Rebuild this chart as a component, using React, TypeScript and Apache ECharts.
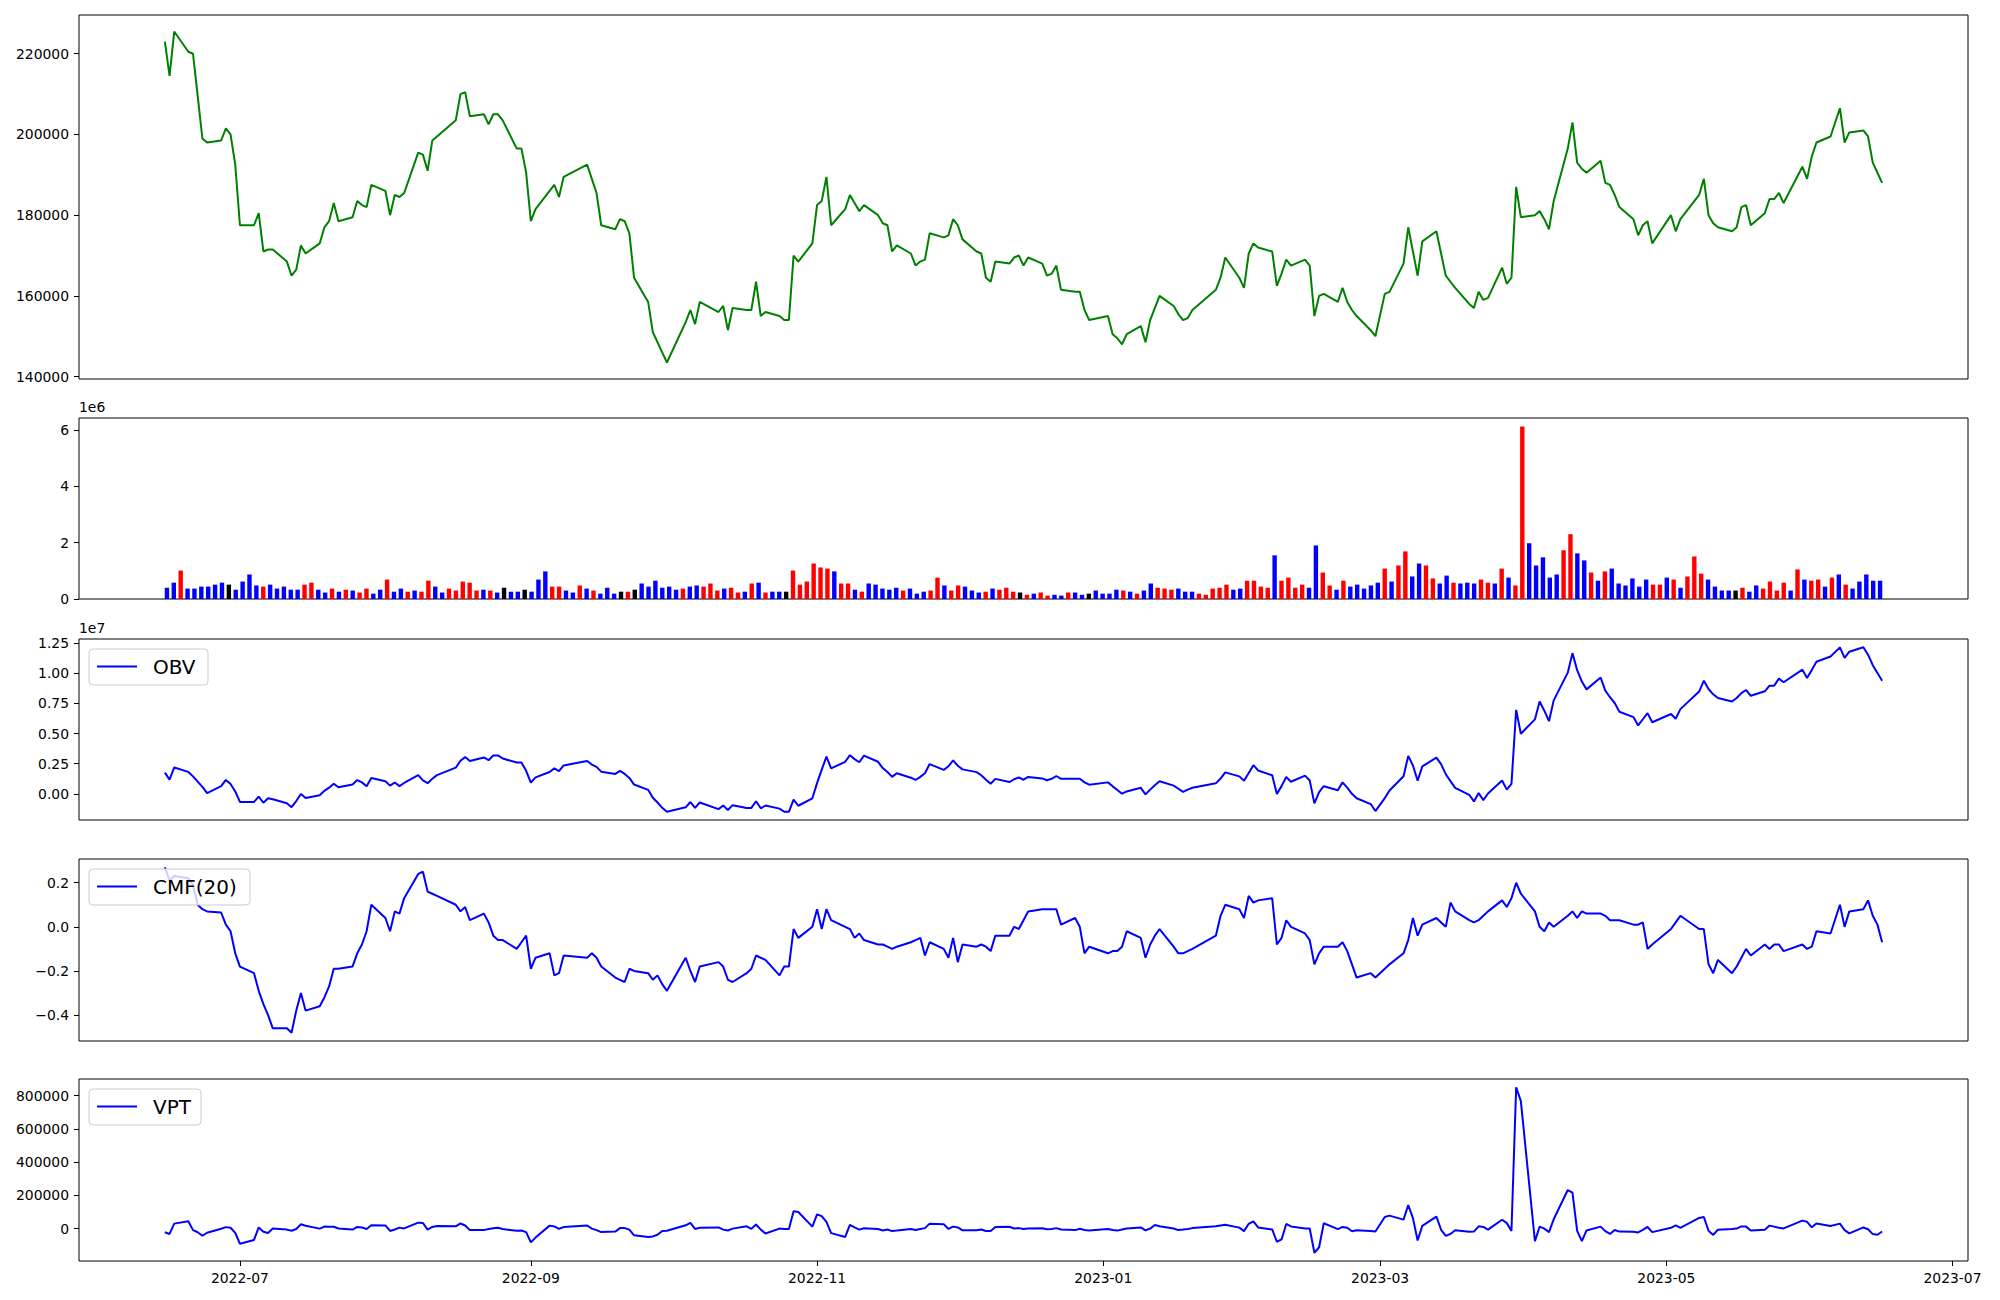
import React, { useEffect, useRef } from "react";
import * as echarts from "echarts";

// ---------------- DATA ----------------
const tradingDaysByMonth: [string, number[]][] = [
  ["2022-06", [15, 16, 17, 20, 21, 22, 23, 24, 27, 28, 29, 30]],
  ["2022-07", [1, 4, 5, 6, 7, 8, 11, 12, 13, 14, 15, 18, 19, 20, 21, 22, 25, 26, 27, 28, 29]],
  ["2022-08", [1, 2, 3, 4, 5, 8, 9, 10, 11, 12, 16, 17, 18, 19, 22, 23, 24, 25, 26, 29, 30, 31]],
  ["2022-09", [1, 2, 5, 6, 7, 8, 13, 14, 15, 16, 19, 20, 21, 22, 23, 26, 27, 28, 29, 30]],
  ["2022-10", [4, 5, 6, 7, 11, 12, 13, 14, 17, 18, 19, 20, 21, 24, 25, 26, 27, 28, 31]],
  ["2022-11", [1, 2, 3, 4, 7, 8, 9, 10, 11, 14, 15, 16, 17, 18, 21, 22, 23, 24, 25, 28, 29, 30]],
  ["2022-12", [1, 2, 5, 6, 7, 8, 9, 12, 13, 14, 15, 16, 19, 20, 21, 22, 23, 26, 27, 28, 29]],
  ["2023-01", [2, 3, 4, 5, 6, 9, 10, 11, 12, 13, 16, 17, 18, 19, 20, 25, 26, 27, 30, 31]],
  ["2023-02", [1, 2, 3, 6, 7, 8, 9, 10, 13, 14, 15, 16, 17, 20, 21, 22, 23, 24, 27, 28]],
  ["2023-03", [2, 3, 6, 7, 8, 9, 10, 13, 14, 15, 16, 17, 20, 21, 22, 23, 24, 27, 28, 29, 30, 31]],
  ["2023-04", [3, 4, 5, 6, 7, 10, 11, 12, 13, 14, 17, 18, 19, 20, 21, 24, 25, 26, 27, 28]],
  ["2023-05", [2, 3, 4, 8, 9, 10, 11, 12, 15, 16, 17, 18, 19, 22, 23, 24, 25, 26, 30, 31]],
  ["2023-06", [1, 2, 5, 7, 8, 9, 12, 13, 14, 15, 16]],
];

const dateTickLabels = ["2022-07", "2022-09", "2022-11", "2023-01", "2023-03", "2023-05", "2023-07"];
const priceTicks = [140000, 160000, 180000, 200000, 220000];
const volumeTicks = [0, 2e6, 4e6, 6e6];
const obvTicks = [0, 2.5e6, 5e6, 7.5e6, 10e6, 12.5e6];
const cmfTicks = [-0.4, -0.2, 0, 0.2];
const vptTicks = [0, 200000, 400000, 600000, 800000];

const closePrice = [
  223000, 214500, 225500, 220500, 220000, 209500, 199000, 198000, 198500, 201500, 200000, 192500,
  177500, 177500, 180500, 171000, 171500, 171500, 168500, 165000, 166500, 172500, 170500, 173000, 177000, 178500, 183000, 178500, 179500, 183500, 182500, 182000, 187500,
  186000, 180000, 185000, 184500, 185500, 195500, 195000, 191000, 198500, 199500, 203500, 210000, 210500, 204500, 205000, 202500, 205000, 205000, 203500, 196500, 196500, 190500,
  178500, 181500, 186000, 187500, 184500, 189500, 192500, 189000, 185500, 177500, 176500, 179000, 178500, 175500, 164500, 158500, 151000, 148500, 146000, 143500,
  153500, 156500, 153000, 158500, 156000, 157500, 151500, 157000, 156500, 156500, 163500, 155000, 156000, 155000, 154000, 154000, 170000, 168500, 173000,
  182500, 183500, 189500, 177500, 181500, 185000, 183000, 181000, 182500, 180000, 178000, 177500, 171000, 172500, 170500, 167500, 168500, 169000, 175500, 174500, 175000, 179000,
  177500, 174000, 171000, 170500, 164500, 163500, 168500, 168000, 169500, 170000, 167500, 169500, 168000, 165000, 165500, 167500, 161500, 161000, 161000, 156500, 154000,
  155000, 150500, 149500, 148000, 150500, 152500, 148500, 154000, 157000, 160000, 157500, 155500, 154000, 154500, 156500, 161500, 164500, 169500, 164500, 162000,
  170500, 173000, 172000, 171000, 162500, 165500, 169000, 167500, 169000, 167500, 155000, 160000, 160500, 158500, 162000, 158500, 156500, 155000, 151500, 150000,
  160500, 161000, 168000, 177000, 171000, 165000, 173500, 176000, 170500, 165000, 163500, 162000, 158000, 157000, 161000, 159000, 159500, 167000, 163000, 164500, 187000, 179500,
  180000, 181000, 179000, 176500, 183500, 196500, 203000, 193000, 191500, 190500, 193500, 188000, 187500, 185000, 182000, 179000, 175000, 177500, 178500, 173000,
  180000, 176000, 179000, 185000, 189000, 180000, 178000, 177000, 176000, 177000, 182000, 182500, 177500, 180500, 184000, 184000, 185500, 183000, 192000, 189000,
  194500, 198000, 199500, 206500, 198000, 200500, 201000, 199500, 193000, 190500, 188000,
];

// volume in millions of shares
const volumeMillions = [
  0.40, 0.58, 1.01, 0.37, 0.37, 0.44, 0.44, 0.51, 0.58, 0.51,
  0.33, 0.62, 0.87, 0.48, 0.44, 0.51, 0.37, 0.44, 0.33, 0.33,
  0.51, 0.58, 0.33, 0.23, 0.37, 0.26, 0.33, 0.30, 0.23, 0.37,
  0.19, 0.33, 0.69, 0.26, 0.37, 0.26, 0.30, 0.26, 0.65, 0.44,
  0.23, 0.37, 0.30, 0.62, 0.58, 0.30, 0.33, 0.30, 0.23, 0.40,
  0.26, 0.26, 0.33, 0.26, 0.69, 0.98, 0.44, 0.44, 0.30, 0.23,
  0.48, 0.37, 0.30, 0.19, 0.40, 0.19, 0.26, 0.26, 0.33, 0.55,
  0.44, 0.65, 0.40, 0.44, 0.33, 0.37, 0.44, 0.48, 0.44, 0.55,
  0.30, 0.37, 0.40, 0.23, 0.26, 0.55, 0.58, 0.23, 0.26, 0.26,
  0.26, 1.01, 0.51, 0.62, 1.26, 1.12, 1.08, 0.98, 0.55, 0.55,
  0.33, 0.26, 0.55, 0.51, 0.37, 0.33, 0.40, 0.30, 0.37, 0.19,
  0.26, 0.30, 0.76, 0.48, 0.30, 0.48, 0.44, 0.30, 0.23, 0.26,
  0.37, 0.33, 0.40, 0.26, 0.23, 0.15, 0.19, 0.23, 0.12, 0.15,
  0.12, 0.23, 0.23, 0.15, 0.19, 0.30, 0.19, 0.19, 0.33, 0.30,
  0.26, 0.19, 0.30, 0.55, 0.40, 0.37, 0.33, 0.37, 0.26, 0.26,
  0.19, 0.15, 0.37, 0.40, 0.51, 0.33, 0.37, 0.65, 0.65, 0.44,
  0.40, 1.55, 0.65, 0.76, 0.40, 0.51, 0.40, 1.90, 0.94, 0.48,
  0.33, 0.65, 0.44, 0.51, 0.37, 0.48, 0.58, 1.08, 0.62, 1.19,
  1.69, 0.80, 1.26, 1.19, 0.73, 0.55, 0.83, 0.58, 0.55, 0.58,
  0.55, 0.69, 0.58, 0.55, 1.08, 0.76, 0.48, 6.12, 1.98, 1.19,
  1.48, 0.76, 0.87, 1.73, 2.30, 1.62, 1.37, 0.94, 0.65, 0.98,
  1.08, 0.55, 0.48, 0.73, 0.44, 0.69, 0.51, 0.51, 0.76, 0.69,
  0.40, 0.80, 1.51, 0.90, 0.69, 0.44, 0.30, 0.30, 0.30, 0.40,
  0.26, 0.48, 0.37, 0.62, 0.30, 0.58, 0.30, 1.05, 0.69, 0.65,
  0.69, 0.44, 0.76, 0.87, 0.51, 0.37, 0.62, 0.87, 0.65, 0.65,
];

// candle direction of each day: r = close above open, b = below, k = unchanged
const candleDirection = (
  "bbrbbbbbbk" + "bbbbrbbbbb" + "rrbbrbrbrr" + "bbrbbrbrrb" + "brrrrrbrbk" +
  "bbkbbbrrbb" + "rbrbbbkrkb" + "bbbbbrbbrr" + "rbrrbrbrbb" + "krrrrrrbrr" +
  "brbbbbbrbb" + "brrbrrbbbr" + "brrrkrbrrb" + "brbbkbbbbr" + "brbbrrrbbb" +
  "rrrrrbbrrr" + "rbrrrrbbrr" + "brbbbbbrbr" + "rbbrrbbrbb" + "brrbrbrrbb" +
  "bbbrrbbrbr" + "bbbbbbrrbr" + "brrrbbbbkr" + "bbrrrrbrbr" + "rbrbrbbbbb"
).split("");

// OBV in millions
const obvMillions = [
  1.76, 1.18, 2.19, 1.82, 1.45, 1.01, 0.57, 0.06, 0.64, 1.15,
  0.82, 0.20, -0.67, -0.67, -0.23, -0.74, -0.37, -0.45, -0.78, -1.11,
  -0.60, -0.02, -0.35, -0.12, 0.25, 0.51, 0.84, 0.54, 0.77, 1.14,
  0.95, 0.62, 1.31, 1.05, 0.68, 0.94, 0.64, 0.90, 1.55, 1.11,
  0.88, 1.25, 1.55, 2.17, 2.75, 3.05, 2.72, 3.02, 2.79, 3.19,
  3.19, 2.93, 2.60, 2.60, 1.91, 0.93, 1.37, 1.81, 2.11, 1.88,
  2.36, 2.73, 2.43, 2.24, 1.84, 1.65, 1.91, 1.65, 1.32, 0.77,
  0.33, -0.32, -0.72, -1.16, -1.49, -1.12, -0.68, -1.16, -0.72, -1.27,
  -0.97, -1.34, -0.94, -1.17, -1.17, -0.62, -1.20, -0.97, -1.23, -1.49,
  -1.49, -0.48, -0.99, -0.37, 0.89, 2.01, 3.09, 2.11, 2.66, 3.21,
  2.88, 2.62, 3.17, 2.66, 2.14, 1.81, 1.41, 1.71, 1.34, 1.15,
  1.41, 1.71, 2.47, 1.99, 2.29, 2.77, 2.33, 2.03, 1.80, 1.54,
  1.17, 0.84, 1.24, 0.98, 1.21, 1.36, 1.17, 1.40, 1.28, 1.13,
  1.25, 1.48, 1.25, 1.25, 1.25, 0.95, 0.76, 0.95, 0.62, 0.32,
  0.01, 0.20, 0.50, -0.05, 0.35, 0.72, 1.05, 0.68, 0.42, 0.16,
  0.35, 0.50, 0.87, 1.27, 1.78, 1.45, 1.08, 1.73, 2.38, 1.94,
  1.54, -0.01, 0.64, 1.40, 1.00, 1.51, 1.11, -0.79, 0.15, 0.63,
  0.30, 0.95, 0.51, 0.00, -0.37, -0.85, -1.43, -0.35, 0.27, 1.46,
  3.15, 2.35, 1.09, 2.28, 3.01, 2.46, 1.63, 1.05, 0.50, -0.08,
  -0.63, 0.06, -0.52, 0.03, 1.11, 0.35, 0.83, 6.97, 4.99, 6.18,
  7.66, 6.90, 6.03, 7.76, 10.06, 11.68, 10.26, 9.32, 8.67, 9.65,
  8.57, 8.02, 7.54, 6.81, 6.37, 5.68, 6.19, 6.70, 5.94, 6.63,
  6.23, 7.03, 8.49, 9.39, 8.70, 8.26, 7.96, 7.66, 7.96, 8.36,
  8.62, 8.14, 8.51, 8.98, 8.98, 9.56, 9.26, 10.31, 9.62, 10.27,
  10.96, 11.40, 12.16, 11.29, 11.80, 12.17, 11.55, 10.68, 10.03, 9.38,
];

const cmf20 = [
  0.27, 0.21, 0.23, 0.22, 0.19, 0.10, 0.08, 0.07, 0.065, 0.01,
  -0.02, -0.12, -0.18, -0.21, -0.29, -0.35, -0.40, -0.46, -0.46, -0.48,
  -0.38, -0.30, -0.38, -0.36, -0.32, -0.27, -0.19, -0.19, -0.18, -0.12,
  -0.08, -0.02, 0.10, 0.04, -0.02, 0.07, 0.06, 0.13, 0.24, 0.25,
  0.16, 0.15, 0.14, 0.10, 0.07, 0.09, 0.03, 0.06, 0.02, -0.04,
  -0.06, -0.06, -0.10, -0.07, -0.04, -0.19, -0.14, -0.12, -0.22, -0.21,
  -0.13, -0.14, -0.12, -0.14, -0.18, -0.23, -0.24, -0.25, -0.19, -0.20,
  -0.21, -0.24, -0.22, -0.26, -0.29, -0.14, -0.20, -0.25, -0.18, -0.16,
  -0.18, -0.24, -0.25, -0.21, -0.19, -0.13, -0.14, -0.15, -0.22, -0.18,
  -0.18, -0.01, -0.05, 0.00, 0.08, -0.01, 0.08, 0.03, 0.00, -0.01,
  -0.05, -0.03, -0.06, -0.08, -0.08, -0.09, -0.10, -0.09, -0.07, -0.06,
  -0.05, -0.13, -0.07, -0.10, -0.14, -0.05, -0.16, -0.08, -0.09, -0.08,
  -0.09, -0.11, -0.04, -0.04, 0.00, -0.01, 0.03, 0.07, 0.08, 0.08,
  0.08, 0.08, 0.01, 0.04, 0.00, -0.12, -0.09, -0.12, -0.11, -0.11,
  -0.09, -0.02, -0.05, -0.14, -0.08, -0.04, -0.01, -0.09, -0.12, -0.12,
  -0.11, -0.10, -0.04, 0.05, 0.10, 0.08, 0.04, 0.14, 0.11, 0.12,
  0.13, -0.08, -0.05, 0.03, 0.00, -0.03, -0.06, -0.17, -0.12, -0.09,
  -0.09, -0.07, -0.11, -0.17, -0.23, -0.21, -0.23, -0.19, -0.17, -0.12,
  -0.06, 0.04, -0.04, 0.01, 0.04, 0.02, 0.00, 0.11, 0.07, 0.03,
  0.02, 0.03, 0.05, 0.07, 0.12, 0.09, 0.13, 0.20, 0.15, 0.07,
  0.00, -0.02, 0.02, 0.00, 0.05, 0.07, 0.04, 0.07, 0.06, 0.06,
  0.05, 0.03, 0.03, 0.03, 0.01, 0.01, 0.02, -0.10, -0.08, -0.01,
  0.02, 0.05, -0.01, -0.01, -0.17, -0.21, -0.15, -0.21, -0.18, -0.14,
  -0.10, -0.13, -0.08, -0.10, -0.08, -0.08, -0.11, -0.08, -0.10, -0.09,
  -0.02, -0.03, 0.10, 0.00, 0.07, 0.08, 0.12, 0.05, 0.01, -0.07,
];

// VPT in thousands
const vptThousands = [
  -22, -32, 30, 44, -9, -22, -43, -25, -1, 9,
  5, -26, -91, -68, 7, -19, -26, 1, -6, -13,
  -2, 26, 17, 0, 12, 11, 11, 1, -6, 10,
  7, -2, 20, 19, -14, -5, 6, 1, 36, 34,
  -6, 10, 16, 14, 31, 19, -9, -9, -2, 2,
  5, -2, -13, -11, -21, -83, -54, 18, 13, -1,
  9, 19, 0, -9, -21, -18, 3, 3, -6, -40,
  -51, -47, -37, -14, -13, 20, 34, -2, 5, 7,
  -6, -11, 0, 14, -1, 25, -6, -29, 0, -3,
  -2, 105, 100, 12, 86, 75, 41, -27, -50, 23,
  7, -6, 2, -2, -11, -5, -15, -12, -2, -8,
  -2, 3, 30, 27, -2, 12, 7, -10, -10, -5,
  -14, -15, 10, 11, 1, 3, -2, 0, 2, -4,
  -2, 3, -5, -9, -1, -8, -11, -2, -8, -12,
  -5, 1, 7, -10, 0, 22, 14, 1, -9, -6,
  -2, 3, 14, 19, 23, 6, -15, 29, 44, 7,
  -5, -79, -65, 28, 13, 1, 1, -145, -112, 32,
  -3, 10, 5, -16, -10, -14, -17, 70, 78, 54,
  142, 63, -71, 17, 72, -7, -44, -32, -10, -19,
  -18, 14, 10, -6, 53, 33, -14, 850, 767, -76,
  12, 0, -21, 56, 232, 217, -14, -75, -11, 12,
  -15, -32, -8, -18, -19, -23, -8, 10, -21, 5,
  19, 5, 64, 70, -13, -38, -7, -3, 0, 13,
  12, -12, -7, 18, 12, 5, 1, 48, 41, 8,
  31, 16, 30, -9, -29, 7, -4, -33, -37, -17,
];

// ---------------- HELPERS ----------------
const FONT = "DejaVu Sans";
const LABEL_SIZE = 13.9;

function toTs(s: string): number {
  const [y, m, d] = s.split("-").map(Number);
  return Date.UTC(y, m - 1, d || 1);
}

function padded(values: number[], frac = 0.05): [number, number] {
  const lo = Math.min(...values);
  const hi = Math.max(...values);
  const r = hi - lo;
  return [lo - frac * r, hi + frac * r];
}

function fmtMonth(v: number): string {
  const d = new Date(v);
  return `${d.getUTCFullYear()}-${String(d.getUTCMonth() + 1).padStart(2, "0")}`;
}

function legendBox(label: string, x: number, y: number, w: number) {
  return {
    type: "group",
    z: 100,
    children: [
      {
        type: "rect",
        z: 100,
        shape: { x, y, width: w, height: 36, r: 4 },
        style: { fill: "rgba(255,255,255,0.8)", stroke: "#cccccc", lineWidth: 1 },
      },
      {
        type: "line",
        z: 101,
        shape: { x1: x + 8, y1: y + 17.5, x2: x + 48, y2: y + 17.5 },
        style: { stroke: "#0000ff", lineWidth: 2 },
      },
      {
        type: "text",
        z: 101,
        style: {
          text: label,
          x: x + 64,
          y: y + 18,
          fill: "#000",
          font: `20px "${FONT}"`,
          textAlign: "left",
          textVerticalAlign: "middle",
        },
      },
    ],
  };
}

export default function App() {
  const ref = useRef<HTMLDivElement>(null);

  useEffect(() => {
    if (!ref.current) return;
    const chart = echarts.init(ref.current, undefined, { renderer: "svg", width: 2000, height: 1300 });

    const dates: number[] = tradingDaysByMonth.flatMap(([ym, days]) =>
      days.map((d) => toTs(`${ym}-${String(d).padStart(2, "0")}`))
    );
    const n = dates.length;
    const [xMin, xMax] = padded([dates[0], dates[n - 1]]);
    const dateTicks = dateTickLabels.map((s) => toTs(s + "-01"));

    const volume = volumeMillions.map((v) => v * 1e6);
    const obv = obvMillions.map((v) => v * 1e6);
    const vpt = vptThousands.map((v) => v * 1e3);

    const [pMin, pMax] = padded(closePrice);
    const [oMin, oMax] = padded(obv);
    const [cMin, cMax] = padded(cmf20);
    const [vMin, vMax] = padded(vpt);
    const volMax = Math.max(...volume) * 1.05;
    const barHalf = 0.3;
    const [ixMin, ixMax] = padded([-barHalf, n - 1 + barHalf]);

    const L = 79;
    const W = 1889;
    const grids = [
      { left: L, top: 15, width: W, height: 364 },
      { left: L, top: 418, width: W, height: 181 },
      { left: L, top: 639, width: W, height: 181 },
      { left: L, top: 859, width: W, height: 182 },
      { left: L, top: 1079, width: W, height: 182 },
    ].map((g) => ({ ...g, show: true, borderColor: "#000", borderWidth: 1, backgroundColor: "transparent" }));

    const labelStyle = { color: "#000", fontFamily: FONT, fontSize: LABEL_SIZE };
    const tickStyle = { length: 5, lineStyle: { color: "#000", width: 1 } };

    const yAxis = (gridIndex: number, min: number, max: number, ticks: number[], fmt: (v: number) => string) => ({
      type: "value",
      gridIndex,
      position: "left",
      min,
      max,
      splitLine: { show: false },
      axisLine: { show: false, onZero: false },
      axisTick: { show: true, ...tickStyle, customValues: ticks },
      axisLabel: { show: true, ...labelStyle, margin: 10, customValues: ticks, formatter: fmt },
    });

    const dateXAxis = (gridIndex: number, showLabels: boolean) => ({
      type: "value",
      gridIndex,
      position: "bottom",
      min: xMin,
      max: xMax,
      splitLine: { show: false },
      axisLine: { show: false, onZero: false },
      axisTick: { show: showLabels, ...tickStyle, customValues: dateTicks },
      axisLabel: { show: showLabels, ...labelStyle, margin: 10, customValues: dateTicks, formatter: fmtMonth },
    });

    const colorOf: Record<string, string> = { r: "#ff0000", b: "#0000ff", k: "#000000" };

    const lineSeries = (name: string, idx: number, values: number[], color: string) => ({
      name,
      type: "line",
      xAxisIndex: idx,
      yAxisIndex: idx,
      data: values.map((v, i) => [dates[i], v]),
      showSymbol: false,
      symbol: "none",
      silent: true,
      color,
      lineStyle: { color, width: 2 },
      z: 3,
    });

    const option: any = {
      animation: false,
      backgroundColor: "#ffffff",
      grid: grids,
      xAxis: [
        dateXAxis(0, false),
        {
          type: "value",
          gridIndex: 1,
          position: "bottom",
          min: ixMin,
          max: ixMax,
          splitLine: { show: false },
          axisLine: { show: false, onZero: false },
          axisTick: { show: false },
          axisLabel: { show: false },
        },
        dateXAxis(2, false),
        dateXAxis(3, false),
        dateXAxis(4, true),
      ],
      yAxis: [
        yAxis(0, pMin, pMax, priceTicks, (v) => String(Math.round(v))),
        yAxis(1, 0, volMax, volumeTicks, (v) => String(Math.round(v / 1e6))),
        yAxis(2, oMin, oMax, obvTicks, (v) => (v / 1e7).toFixed(2)),
        yAxis(3, cMin, cMax, cmfTicks, (v) => (v < -1e-9 ? "\u2212" + Math.abs(v).toFixed(1) : Math.abs(v).toFixed(1))),
        yAxis(4, vMin, vMax, vptTicks, (v) => String(Math.round(v))),
      ],
      series: [
        lineSeries("Close", 0, closePrice, "#008000"),
        {
          name: "Volume",
          type: "bar",
          xAxisIndex: 1,
          yAxisIndex: 1,
          barWidth: 4.4,
          silent: true,
          data: volume.map((v, i) => ({
            value: [i, v],
            itemStyle: { color: colorOf[candleDirection[i]] },
          })),
        },
        lineSeries("OBV", 2, obv, "#0000ff"),
        lineSeries("CMF(20)", 3, cmf20, "#0000ff"),
        lineSeries("VPT", 4, vpt, "#0000ff"),
      ],
      graphic: [
        {
          type: "text",
          z: 50,
          style: { text: "1e6", x: 79, y: 413.5, fill: "#000", font: `${LABEL_SIZE}px "${FONT}"`, textAlign: "left", textVerticalAlign: "bottom" },
        },
        {
          type: "text",
          z: 50,
          style: { text: "1e7", x: 79, y: 634.5, fill: "#000", font: `${LABEL_SIZE}px "${FONT}"`, textAlign: "left", textVerticalAlign: "bottom" },
        },
        legendBox("OBV", 89, 649, 119),
        legendBox("CMF(20)", 89, 869, 161),
        legendBox("VPT", 89, 1089, 112),
      ],
    };

    chart.setOption(option);
    return () => chart.dispose();
  }, []);

  return (
    <div
      ref={ref}
      style={{ position: "fixed", left: 0, top: 0, width: 2000, height: 1300, background: "#ffffff" }}
    />
  );
}
